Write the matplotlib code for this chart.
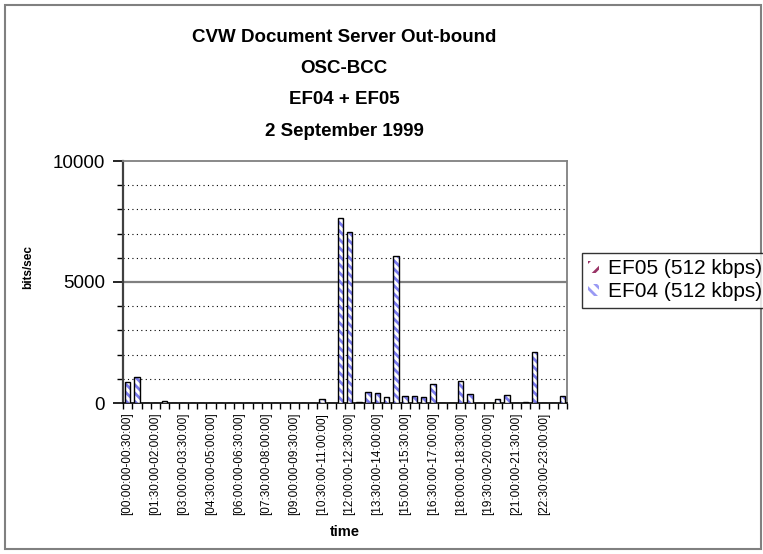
import numpy as np
import matplotlib
matplotlib.use("Agg")
from matplotlib import pyplot as plt
from matplotlib.patches import Patch, Rectangle
from matplotlib.ticker import MultipleLocator, FixedLocator

plt.rcParams['font.family'] = ['Liberation Sans', 'DejaVu Sans']
plt.rcParams['hatch.linewidth'] = 2.0

# half-hour slots over the day
slots = ["[%02d:%02d:00-%02d:%02d:00]" % (h // 2, 30 * (h % 2), (h + 1) // 2, 30 * ((h + 1) % 2))
         for h in range(48)]

# out-bound traffic in bits/sec per half hour
ef04 = [855, 1060, 0, 0, 80, 0, 0, 0, 0, 0, 0, 0,
        0, 0, 0, 0, 0, 0, 0, 0, 0, 150, 0, 7630,
        7050, 40, 440, 400, 235, 6070, 275, 275, 235, 770, 0, 0,
        910, 360, 0, 0, 165, 330, 0, 30, 2100, 0, 0, 290]
ef05 = [0] * 48

W, H = 763, 554
fig = plt.figure(figsize=(W / 100, H / 100), dpi=100)
ax = fig.add_axes([123 / W, 1 - 403 / H, 444 / W, 242 / H])

x = np.arange(len(slots))
bw = 0.6
# hatched fill, then black outline on top
ax.bar(x, ef04, width=bw, facecolor='white', edgecolor='#7b7bee', hatch='\\\\\\\\', linewidth=0, zorder=3)
ax.bar(x, ef04, width=bw, fill=False, edgecolor='black', linewidth=1.0, zorder=4)
ax.bar(x, ef05, width=bw, bottom=ef04, facecolor='white', edgecolor='#993366', hatch='////',
       linewidth=0, zorder=3)

ax.set_xlim(-0.5, len(slots) - 0.5)
ax.set_ylim(0, 10000)

# y axis: major 5000, dotted grid every 1000
ax.yaxis.set_major_locator(MultipleLocator(5000))
ax.yaxis.set_minor_locator(MultipleLocator(1000))
ax.tick_params(axis='y', which='major', direction='out', length=7, width=1.2, labelsize=13.5, pad=6)
ax.tick_params(axis='y', which='minor', direction='out', length=4, width=1.0)
for v in range(1000, 10000, 1000):
    if v == 5000:
        ax.axhline(v, color='#808080', lw=1.6, zorder=1)
    else:
        ax.axhline(v, color='black', lw=0.8, ls=(0, (1, 3)), zorder=1)

# x axis: ticks between slots, label every third slot
ax.xaxis.set_major_locator(FixedLocator(x[::3]))
ax.set_xticklabels([slots[i] for i in x[::3]], rotation=90, fontsize=8.5)
ax.xaxis.set_minor_locator(FixedLocator(np.arange(len(slots) + 1) - 0.5))
ax.tick_params(axis='x', which='major', length=0, pad=7)
ax.tick_params(axis='x', which='minor', direction='out', length=4, width=1.0)

for s in ('top', 'right'):
    ax.spines[s].set_color('#808080')
    ax.spines[s].set_linewidth(1.3)
ax.spines['left'].set_color('#404040')
ax.spines['left'].set_linewidth(1.6)
ax.spines['bottom'].set_color('black')
ax.spines['bottom'].set_linewidth(1.2)

# titles
titles = ["CVW Document Server Out-bound", "OSC-BCC", "EF04 + EF05", "2 September 1999"]
for i, t in enumerate(titles):
    fig.text(344 / W, 1 - (37 + 31.5 * i) / H, t, ha='center', va='center',
             fontsize=13.5, fontweight='bold')

fig.text(345 / W, 1 - 532 / H, "time", ha='center', va='center', fontsize=10.5, fontweight='bold')
fig.text(28 / W, 1 - 267 / H, "bits/sec", ha='center', va='center', rotation=90,
         fontsize=8.5, fontweight='bold')

handles = [Patch(facecolor='white', edgecolor='#993366', hatch='//', linewidth=0),
           Patch(facecolor='white', edgecolor='#9a9af4', hatch='\\\\\\', linewidth=0)]
leg = fig.legend(handles, ["EF05 (512 kbps)", "EF04 (512 kbps)"], loc='upper left',
                 bbox_to_anchor=(582 / W, 1 - 253 / H), fontsize=15, frameon=True,
                 fancybox=False, handlelength=0.5, handleheight=0.55, handletextpad=0.45,
                 borderpad=0.3, labelspacing=0.2, borderaxespad=0)
leg.get_frame().set_edgecolor('black')
leg.get_frame().set_linewidth(1.0)

# chart border
fig.patches.append(Rectangle((5 / W, 1 - 549 / H), 756 / W, 544 / H, transform=fig.transFigure,
                             fill=False, edgecolor='#808080', linewidth=1.5))

fig.savefig("out.png", dpi=100)
